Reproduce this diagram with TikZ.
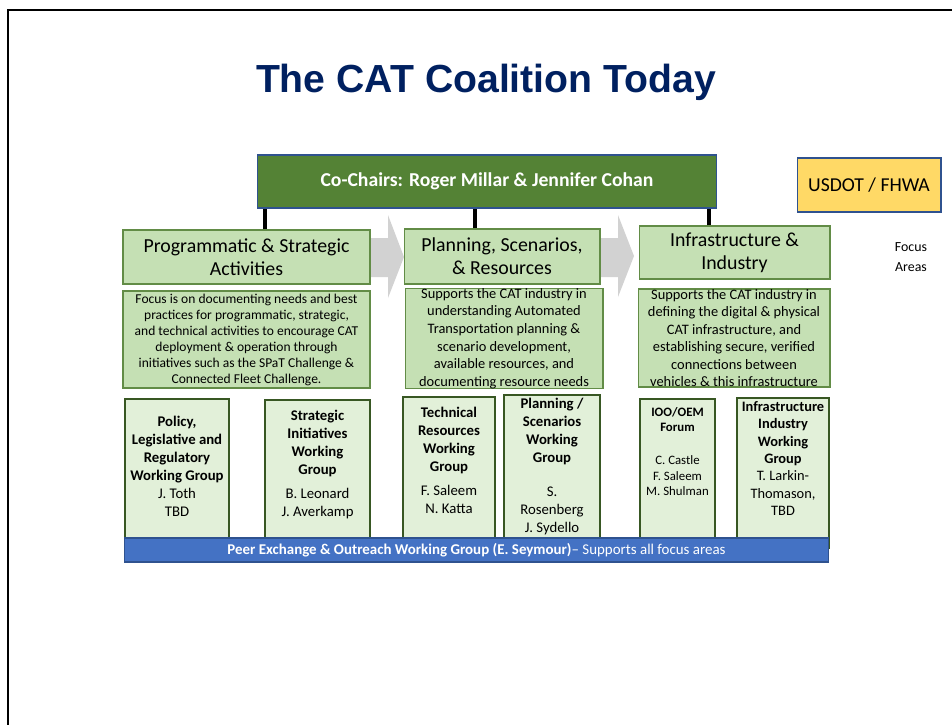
\documentclass[tikz,border=0pt]{standalone}
\usepackage{fontspec}
\setmainfont{Carlito}
\newfontfamily\titlefont{Liberation Sans}
\usetikzlibrary{positioning}
\definecolor{titleblue}{RGB}{0,32,96}
\definecolor{chairgreen}{RGB}{84,130,53}
\definecolor{boxblue}{RGB}{47,82,143}
\definecolor{fhwayellow}{RGB}{255,217,102}
\definecolor{areagreen}{RGB}{197,224,180}
\definecolor{areaedge}{RGB}{98,140,70}
\definecolor{wgfill}{RGB}{226,240,217}
\definecolor{wgedge}{RGB}{56,87,35}
\definecolor{peerblue}{RGB}{68,114,196}
\definecolor{flowgrey}{RGB}{210,210,210}

\begin{document}
\begin{tikzpicture}[x=0.02cm,y=-0.02cm,
  every node/.style={inner sep=0pt},
  chair/.style={draw=boxblue,fill=chairgreen,text=white,line width=0.6pt,font=\bfseries\fontsize{11.2}{13}\selectfont},
  agency/.style={draw=boxblue,fill=fhwayellow,line width=0.6pt,font=\fontsize{11.2}{13}\selectfont},
  area/.style={draw=areaedge,fill=areagreen,line width=0.6pt,align=center,font=\fontsize{11.3}{13}\selectfont},
  note/.style={draw=areaedge,fill=areagreen,line width=0.6pt,align=center},
  wgbox/.style={draw=wgedge,fill=wgfill,line width=1.2pt},
  wgtext/.style={align=center,font=\fontsize{8.4}{10.2}\selectfont},
  peer/.style={draw=boxblue,fill=peerblue,text=white,line width=0.6pt,font=\fontsize{8.5}{10}\selectfont},
  link/.style={line width=2.3pt},
  flow/.style={fill=flowgrey}]
  \useasboundingbox (0,0) rectangle (952,724);
  \draw[line width=1.7pt] (8,740) |- (960,10);

  \node[font=\titlefont\bfseries\fontsize{22.3}{26}\selectfont,text=titleblue] (title) at (486,82) {The CAT Coalition Today};

  % grey arrows between the focus areas
  \fill[flow] (360,238) -- (388,238) -- (388,215) -- (404,257) -- (388,298) -- (388,277) -- (360,277) -- cycle;
  \fill[flow] (590,238) -- (618,238) -- (618,215) -- (634,256) -- (618,297) -- (618,277) -- (590,277) -- cycle;

  \node[chair,minimum width=9.2cm,minimum height=1.06cm] (chairs) at (487,181.5) {Co-Chairs: Roger Millar \& Jennifer Cohan};
  \node[agency,minimum width=2.88cm,minimum height=1.08cm] (usdot) at (869,185) {USDOT / FHWA};

  \node[area,minimum width=4.94cm,minimum height=1.08cm] (prog) at (246.5,257) {Programmatic \& Strategic\\Activities};
  \node[area,minimum width=3.92cm,minimum height=1.1cm] (plan) at (502,256.5) {Planning, Scenarios,\\\& Resources};
  \node[area,minimum width=3.82cm,minimum height=1.06cm] (infra) at (734.5,252.5) {Infrastructure \&\\Industry};
  \node[align=center,font=\fontsize{7.9}{11.3}\selectfont] (areas) at (911,257) {Focus\\Areas};

  \draw[link] ([xshift=0.37cm]prog.north) -- ([xshift=0.37cm]prog.north |- chairs.south);
  \draw[link] ([xshift=-0.54cm]plan.north) -- ([xshift=-0.54cm]plan.north |- chairs.south);
  \draw[link] ([xshift=-0.51cm]infra.north) -- ([xshift=-0.51cm]infra.north |- chairs.south);

  \node[note,minimum width=4.94cm,minimum height=1.94cm,font=\fontsize{7.7}{9.1}\selectfont] (progtxt) at (246.5,339.5) {Focus is on documenting needs and best\\practices for programmatic, strategic,\\and technical activities to encourage CAT\\deployment \& operation through\\initiatives such as the SPaT Challenge \&\\Connected Fleet Challenge.};
  \node[note,minimum width=3.96cm,minimum height=1.98cm,font=\fontsize{8.2}{10}\selectfont] (plantxt) at (504,338.5) {Supports the CAT industry in\\understanding Automated\\Transportation planning \&\\scenario development,\\available resources, and\\documenting resource needs};
  \node[note,minimum width=3.84cm,minimum height=1.96cm,font=\fontsize{8.2}{10}\selectfont] (infratxt) at (734,338) {Supports the CAT industry in\\defining the digital \& physical\\CAT infrastructure, and\\establishing secure, verified\\connections between\\vehicles \& this infrastructure};

  \node[wgbox,minimum width=2.08cm,minimum height=2.98cm] (policy) at (177,473.5) {};
  \node[wgbox,minimum width=2.1cm,minimum height=2.96cm] (strat) at (317.5,474) {};
  \node[wgbox,minimum width=1.84cm,minimum height=3.02cm] (tech) at (449,472.5) {};
  \node[wgbox,minimum width=1.92cm,minimum height=3.06cm] (scen) at (552,471.5) {};
  \node[wgbox,minimum width=1.5cm,minimum height=2.98cm] (forum) at (677.5,473.5) {};
  \node[wgbox,minimum width=1.84cm,minimum height=3cm] (indus) at (783,473) {};

  \node[wgtext,below=0.36cm of policy.north] (policytxt) {\textbf{Policy,}\\\textbf{Legislative and}\\\textbf{Regulatory}\\\textbf{Working Group}\\J. Toth\\TBD};
  \node[wgtext,below=0.22cm of strat.north] (strattxt) {\textbf{Strategic}\\\textbf{Initiatives}\\\textbf{Working}\\\textbf{Group}\\[3.4pt]B. Leonard\\J. Averkamp};
  \node[wgtext,below=0.22cm of tech.north] (techtxt) {\textbf{Technical}\\\textbf{Resources}\\\textbf{Working}\\\textbf{Group}\\[3.4pt]F. Saleem\\N. Katta};
  \node[wgtext,below=0.08cm of scen.north] (scentxt) {\textbf{Planning /}\\\textbf{Scenarios}\\\textbf{Working}\\\textbf{Group}\\[9pt]S.\\Rosenberg\\J. Sydello};
  \node[wgtext,font=\fontsize{7.3}{8.8}\selectfont,below=0.18cm of forum.north] (forumtxt) {\textbf{IOO/OEM}\\\textbf{Forum}\\[10pt]C. Castle\\F. Saleem\\M. Shulman};
  \node[wgtext,font=\fontsize{8.2}{9.9}\selectfont,below=0.08cm of indus.north] (industxt) {\textbf{Infrastructure}\\\textbf{Industry}\\\textbf{Working}\\\textbf{Group}\\T. Larkin-\\Thomason,\\TBD};

  \node[peer,minimum width=14.1cm,minimum height=0.48cm] (peer) at (476.5,550) {\textbf{Peer Exchange \& Outreach Working Group (E. Seymour)}-- Supports all focus areas};
\end{tikzpicture}
\end{document}
